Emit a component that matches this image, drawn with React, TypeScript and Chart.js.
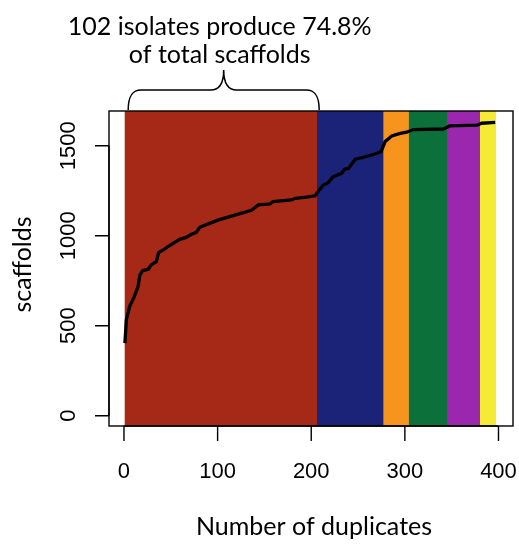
import React, { useEffect, useRef } from "react";
import { Chart, registerables } from "chart.js";

Chart.register(...registerables);

// Line: number of duplicates (x) vs cumulative scaffolds (y)
const duplicates = [1, 2.5, 6, 11, 15, 17, 20, 26, 29, 34.5, 37, 42, 47, 59.5, 66.5, 72, 77, 81, 90, 101, 113, 127.5, 136.5, 143.5, 156, 159, 179, 183, 195, 204, 207.5, 213, 218, 223.5, 232.5, 235.5, 240, 247, 256, 268, 274.5, 279, 286, 295, 302, 309, 341, 348, 377, 382, 396.5];
const scaffolds = [403, 532, 606, 662, 717, 782, 806, 814, 838, 856, 906, 921, 940, 980, 991, 1008, 1017, 1047, 1066, 1088, 1106, 1128, 1143, 1171, 1177, 1190, 1199, 1208, 1214, 1222, 1247, 1282, 1295, 1328, 1347, 1369, 1375, 1425, 1436, 1454, 1467, 1523, 1554, 1569, 1575, 1590, 1593, 1610, 1614, 1625, 1630];

// Background groups (band edges on the duplicates axis)
const bandStarts = [0.5, 205.5, 276.5, 303.5, 344.5, 379.5];
const bandEnds = [205.5, 276.5, 303.5, 344.5, 379.5, 397.5];
const bandColors = ["#A62816", "#1B2378", "#F7941D", "#0B703A", "#9B27AF", "#F5EB35"];

const xTicks = [0, 100, 200, 300, 400];
const yTicks = [0, 500, 1000, 1500];
const xMin = -16;
const xMax = 415.5;
const yMin = -57;
const yMax = 1693;

const annotationLines = ["102 isolates produce 74.8%", "of total scaffolds"];
const braceFrom = 4.5;
const braceTo = 208.5;
const xTitle = "Number of duplicates";
const yTitle = "scaffolds";

const decorPlugin = {
  id: "decor",
  afterDraw(chart: any) {
    const { ctx, chartArea: ca } = chart;
    const xs = chart.scales.x;
    const ys = chart.scales.y;
    ctx.save();
    ctx.strokeStyle = "#000";
    ctx.fillStyle = "#000";
    ctx.lineWidth = 1.4;
    // box
    ctx.strokeRect(ca.left, ca.top, ca.right - ca.left, ca.bottom - ca.top);

    // x axis
    const tickLen = 15;
    ctx.beginPath();
    ctx.moveTo(xs.getPixelForValue(xTicks[0]), ca.bottom);
    ctx.lineTo(xs.getPixelForValue(xTicks[xTicks.length - 1]), ca.bottom);
    xTicks.forEach((v) => {
      const px = xs.getPixelForValue(v);
      ctx.moveTo(px, ca.bottom);
      ctx.lineTo(px, ca.bottom + tickLen);
    });
    ctx.stroke();
    ctx.font = '22px "Liberation Sans", Arial, sans-serif';
    ctx.textAlign = "center";
    ctx.textBaseline = "middle";
    xTicks.forEach((v) => {
      ctx.fillText(String(v), xs.getPixelForValue(v), ca.bottom + 46);
    });

    // y axis
    ctx.beginPath();
    ctx.moveTo(ca.left, ys.getPixelForValue(yTicks[0]));
    ctx.lineTo(ca.left, ys.getPixelForValue(yTicks[yTicks.length - 1]));
    yTicks.forEach((v) => {
      const py = ys.getPixelForValue(v);
      ctx.moveTo(ca.left, py);
      ctx.lineTo(ca.left - 14, py);
    });
    ctx.stroke();
    yTicks.forEach((v) => {
      const py = ys.getPixelForValue(v);
      ctx.save();
      ctx.translate(ca.left - 40, py);
      ctx.rotate(-Math.PI / 2);
      ctx.fillText(String(v), 0, 0);
      ctx.restore();
    });

    // titles
    ctx.font = "25px Lato, sans-serif";
    ctx.textBaseline = "middle";
    ctx.fillText(xTitle, (ca.left + ca.right) / 2 + 3, 527);
    ctx.save();
    ctx.translate(23, (ca.top + ca.bottom) / 2 - 4);
    ctx.rotate(-Math.PI / 2);
    ctx.fillText(yTitle, 0, 0);
    ctx.restore();

    // brace
    const L = xs.getPixelForValue(braceFrom);
    const R = xs.getPixelForValue(braceTo);
    const M = (L + R) / 2;
    const yEnd = ca.top - 1;
    const yMid = ca.top - 21;
    const yPeak = ca.top - 41;
    ctx.lineWidth = 1.5;
    ctx.beginPath();
    ctx.moveTo(L, yEnd);
    ctx.bezierCurveTo(L, yMid + 6, L + 4, yMid, L + 13, yMid);
    ctx.lineTo(M - 13, yMid);
    ctx.bezierCurveTo(M - 4, yMid, M, yMid - 7, M, yPeak);
    ctx.bezierCurveTo(M, yMid - 7, M + 4, yMid, M + 13, yMid);
    ctx.lineTo(R - 13, yMid);
    ctx.bezierCurveTo(R - 4, yMid, R, yMid + 6, R, yEnd);
    ctx.stroke();

    // annotation
    ctx.textBaseline = "alphabetic";
    ctx.fillText(annotationLines[0], M - 4, 35);
    ctx.fillText(annotationLines[1], M - 4, 63);
    ctx.restore();
  },
};

export default function App() {
  const ref = useRef<HTMLCanvasElement | null>(null);
  useEffect(() => {
    if (!ref.current) return;
    const last = bandColors.length - 1;
    const bandSets = bandColors.map((c, i) => ({
      type: "line" as const,
      data: [
        { x: bandStarts[i], y: yMax },
        // small overlap hides the anti-aliasing seam between adjacent bands
        { x: bandEnds[i] + (i < last ? 0.8 : 0), y: yMax },
      ],
      borderWidth: 0,
      borderColor: c,
      backgroundColor: c,
      pointRadius: 0,
      fill: "start",
      order: 2,
    }));
    const chart = new Chart(ref.current, {
      type: "line",
      data: {
        datasets: [
          {
            data: duplicates.map((d, i) => ({ x: d, y: scaffolds[i] })),
            borderColor: "#000",
            borderWidth: 3.3,
            pointRadius: 0,
            tension: 0,
            fill: false,
            order: 0,
          },
          ...bandSets,
        ] as any,
      },
      options: {
        animation: false,
        responsive: false,
        layout: { padding: { left: 109, top: 111, right: 6, bottom: 118 } },
        plugins: { legend: { display: false }, tooltip: { enabled: false } },
        scales: {
          x: { type: "linear", min: xMin, max: xMax, display: false },
          y: { type: "linear", min: yMin, max: yMax, display: false },
        },
      },
      plugins: [decorPlugin],
    });
    return () => chart.destroy();
  }, []);
  return (
    <div style={{ position: "absolute", left: 0, top: 0, width: 519, height: 544, background: "#fff" }}>
      <canvas ref={ref} width={519} height={544} />
    </div>
  );
}
